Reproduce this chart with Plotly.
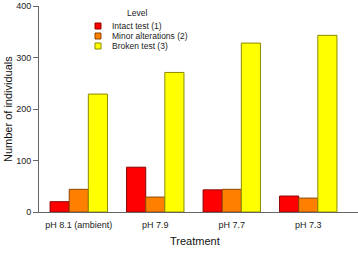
import plotly.graph_objects as go

treatments = ["pH 8.1 (ambient)", "pH 7.9", "pH 7.7", "pH 7.3"]
levels = ["Intact test (1)", "Minor alterations (2)", "Broken test (3)"]
intact = [20, 87, 43, 31]
minor = [44, 29, 44, 27]
broken = [229, 271, 328, 343]
series = [intact, minor, broken]
fills = ["#FF0000", "#FF8000", "#FFFF00"]
edges = ["#8B0000", "#8B4500", "#8B8B00"]
y_ticks = [0, 100, 200, 300, 400]

W, H = 358, 257
ML, MR, MT, MB = 39, 0, 6, 45
PW, PH = W - ML - MR, H - MT - MB

def px(x):
    return (x - ML) / PW

def py(y):
    return (H - MB - y) / PH

FONT = "Liberation Sans, Arial, sans-serif"

fig = go.Figure()
for name, vals, fc, ec in zip(levels, series, fills, edges):
    fig.add_trace(go.Bar(x=treatments, y=vals, name=name,
                         marker=dict(color=fc, line=dict(color=ec, width=1)),
                         showlegend=False))

shapes = []
annotations = []
# custom compact legend
annotations.append(dict(text="Level", x=px(137), y=py(13), xref="paper", yref="paper",
                        showarrow=False, xanchor="center", yanchor="middle",
                        font=dict(size=8.5, color="#222", family=FONT)))
for i, (name, fc, ec) in enumerate(zip(levels, fills, edges)):
    cy = 26 + 10 * i
    shapes.append(dict(type="rect", xref="paper", yref="paper",
                       x0=px(95), x1=px(101), y0=py(cy + 3), y1=py(cy - 3),
                       fillcolor=fc, line=dict(color=ec, width=1)))
    annotations.append(dict(text=name, x=px(110), y=py(cy), xref="paper", yref="paper",
                            showarrow=False, xanchor="left", yanchor="middle",
                            font=dict(size=8.5, color="#222", family=FONT)))
# axis titles
annotations.append(dict(text="Treatment", x=px(195), y=py(241), xref="paper", yref="paper",
                        showarrow=False, xanchor="center", yanchor="middle",
                        font=dict(size=11, color="#111", family=FONT)))
annotations.append(dict(text="Number of individuals", x=px(8), y=py(109), xref="paper", yref="paper",
                        showarrow=False, xanchor="center", yanchor="middle", textangle=-90,
                        font=dict(size=11, color="#111", family=FONT)))

fig.update_layout(
    width=W, height=H,
    margin=dict(l=ML, r=MR, t=MT, b=MB),
    paper_bgcolor="white", plot_bgcolor="white",
    barmode="group", bargap=0.25, bargroupgap=0,
    font=dict(family=FONT, size=9, color="#222"),
    shapes=shapes, annotations=annotations,
    xaxis=dict(range=[-0.52, 3.65], showline=True, linecolor="#666", linewidth=1,
               ticks="outside", ticklen=4, tickcolor="rgba(0,0,0,0)",
               showgrid=False, zeroline=False, tickfont=dict(size=9, color="#222")),
    yaxis=dict(range=[0, 400], tickvals=y_ticks, showline=True, linecolor="#666", linewidth=1,
               ticks="outside", ticklen=5, tickcolor="#666", showgrid=False, zeroline=False,
               tickfont=dict(size=9, color="#222")),
)

fig.write_html("out.html")
